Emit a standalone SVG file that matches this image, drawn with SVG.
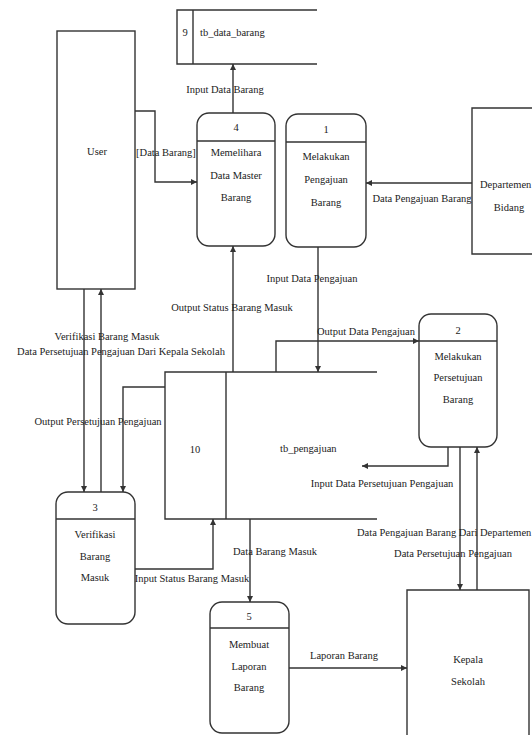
<svg xmlns="http://www.w3.org/2000/svg" width="532" height="735" viewBox="0 0 532 735">
<style>
.s{fill:#fff;stroke:#333;stroke-width:1.4}
.l{fill:none;stroke:#333;stroke-width:1.4}
.c{fill:none;stroke:#333;stroke-width:1.4;marker-end:url(#a)}
text{font-family:'Liberation Serif','DejaVu Serif','Times New Roman',serif;font-size:10.5px;fill:#222}
.m{text-anchor:middle}
</style>
<defs>
<marker id="a" viewBox="0 0 10 10" refX="10" refY="5" markerWidth="6" markerHeight="6" markerUnits="userSpaceOnUse" orient="auto">
<path d="M0,0 L10,5 L0,10 z" fill="#333"/>
</marker>
</defs>
<rect width="532" height="735" fill="#fff"/>

<g id="store9">
<path class="l" d="M317,10 H177 V64 H317 M193,10 V64"/>
<text x="185" y="36" class="m">9</text>
<text x="200" y="36">tb_data_barang</text>
</g>

<g id="store10">
<path class="l" d="M377,372 H165 V519 H377 M226,372 V519"/>
<text x="195" y="453" class="m">10</text>
<text x="280" y="452">tb_pengajuan</text>
</g>

<g id="user">
<rect class="s" x="57" y="31" width="78" height="258"/>
<text x="97" y="155" class="m">User</text>
</g>

<g id="departemen">
<path class="s" d="M532,108 H472 V254 H532"/>
<text x="480" y="188">Departemen</text>
<text x="509" y="211" class="m">Bidang</text>
</g>

<g id="kepala">
<path class="s" d="M407,735 V590 H529 V735"/>
<text x="468" y="663" class="m">Kepala</text>
<text x="468" y="685" class="m">Sekolah</text>
</g>

<g id="p4">
<rect class="s" x="197" y="113" width="78" height="133" rx="12"/>
<line class="l" x1="197" y1="141" x2="275" y2="141"/>
<text x="236" y="131" class="m">4</text>
<text x="236" y="156" class="m">Memelihara</text>
<text x="236" y="179" class="m">Data Master</text>
<text x="236" y="201" class="m">Barang</text>
</g>

<g id="p1">
<rect class="s" x="286" y="114" width="80" height="133" rx="12"/>
<line class="l" x1="286" y1="142" x2="366" y2="142"/>
<text x="326" y="133" class="m">1</text>
<text x="326" y="160" class="m">Melakukan</text>
<text x="326" y="183" class="m">Pengajuan</text>
<text x="326" y="206" class="m">Barang</text>
</g>

<g id="p2">
<rect class="s" x="419" y="314" width="78" height="133" rx="12"/>
<line class="l" x1="419" y1="341" x2="497" y2="341"/>
<text x="458" y="334" class="m">2</text>
<text x="458" y="360" class="m">Melakukan</text>
<text x="458" y="381" class="m">Persetujuan</text>
<text x="458" y="403" class="m">Barang</text>
</g>

<g id="p3">
<rect class="s" x="56" y="492" width="79" height="132" rx="12"/>
<line class="l" x1="56" y1="519" x2="135" y2="519"/>
<text x="95" y="511" class="m">3</text>
<text x="95" y="538" class="m">Verifikasi</text>
<text x="95" y="560" class="m">Barang</text>
<text x="95" y="581" class="m">Masuk</text>
</g>

<g id="p5">
<rect class="s" x="210" y="602" width="79" height="131" rx="12"/>
<line class="l" x1="210" y1="628" x2="289" y2="628"/>
<text x="249" y="620" class="m">5</text>
<text x="249" y="648" class="m">Membuat</text>
<text x="249" y="670" class="m">Laporan</text>
<text x="249" y="691" class="m">Barang</text>
</g>

<g id="connectors">
<path class="c" d="M233,113 V64"/>
<path class="c" d="M135,111 H155 V182 H197"/>
<path class="c" d="M472,183 H366"/>
<path class="c" d="M318,247 V372"/>
<path class="c" d="M233,372 V246"/>
<path class="c" d="M276,372 V341 H419"/>
<path class="c" d="M448,447 V466 H362"/>
<path class="c" d="M460,447 V590"/>
<path class="c" d="M477,590 V447"/>
<path class="c" d="M84,289 V492"/>
<path class="c" d="M101,492 V289"/>
<path class="c" d="M165,387 H123 V492"/>
<path class="c" d="M135,569 H213 V519"/>
<path class="c" d="M250,519 V602"/>
<path class="c" d="M289,668 H407"/>
<text x="225" y="93" class="m">Input Data Barang</text>
<text x="166" y="156" class="m">[Data Barang]</text>
<text x="422" y="202" class="m">Data Pengajuan Barang</text>
<text x="312" y="282" class="m">Input Data Pengajuan</text>
<text x="232" y="311" class="m">Output Status  Barang Masuk</text>
<text x="366" y="335" class="m">Output Data Pengajuan</text>
<text x="107" y="340" class="m">Verifikasi Barang Masuk</text>
<text x="121" y="355" class="m">Data Persetujuan Pengajuan Dari Kepala Sekolah</text>
<text x="98" y="425" class="m">Output Persetujuan Pengajuan</text>
<text x="382" y="487" class="m">Input Data Persetujuan Pengajuan</text>
<text x="357" y="536">Data Pengajuan Barang Dari Departemen</text>
<text x="453" y="557" class="m">Data Persetujuan Pengajuan</text>
<text x="275" y="555" class="m">Data Barang Masuk</text>
<text x="192" y="582" class="m">Input Status Barang Masuk</text>
<text x="344" y="659" class="m">Laporan Barang</text>
</g>
</svg>
